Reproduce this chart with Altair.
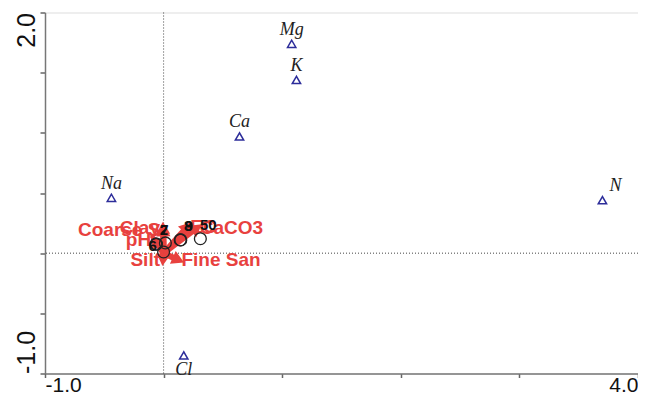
import altair as alt
import pandas as pd

# ---- data (CANOCO-style biplot scores) ----
species = ["Mg", "K", "Ca", "Na", "N", "Cl"]
sp_x = [1.08, 1.12, 0.64, -0.44, 3.70, 0.17]
sp_y = [1.74, 1.44, 0.97, 0.46, 0.44, -0.85]

env = ["Coarse S", "Clay", "pH", "CaCO3", "EC", "Silt", "Fine San"]
env_x = [-0.002, -0.005, -0.08, 0.28, 0.20, -0.005, 0.125]
env_y = [0.19, 0.21, 0.11, 0.21, 0.22, -0.056, -0.056]

samples = ["2", "7", "8", "9", "50", "1", "6"]
smp_x = [-0.065, -0.06, 0.14, 0.145, 0.31, 0.015, 0.0]
smp_y = [0.075, 0.075, 0.11, 0.11, 0.12, 0.085, 0.01]

x_ticks = [-1, 0, 1, 2, 3, 4]
y_ticks = [-1, -0.5, 0, 0.5, 1, 1.5, 2]

sp_df = pd.DataFrame({"name": species, "x": sp_x, "y": sp_y})
env_df = pd.DataFrame({"name": env, "x": env_x, "y": env_y})
smp_df = pd.DataFrame({"name": samples, "x": smp_x, "y": smp_y})

RED = "#e8413e"
NAVY = "#2d2d9a"
FONT = "Liberation Sans"

xs = alt.Scale(domain=[-1, 4], nice=False, zero=False)
ys = alt.Scale(domain=[-1, 2], nice=False, zero=False)

AX = alt.Axis(
    values=x_ticks, title=None, grid=False,
    labelExpr="datum.value == -1 ? '-1.0' : (datum.value == 4 ? '4.0' : '')",
    labelFlush=False,
    labelAlign=alt.ExprRef(expr="datum.value == 4 ? 'right' : 'left'"),
    labelFontSize=21, labelFont=FONT, labelColor="#111",
    labelBaseline="alphabetic", labelPadding=13.5, tickSize=4, tickColor="#666", tickWidth=1.5,
    domainColor="#777", domainWidth=1.5)
AY = alt.Axis(
    values=y_ticks, title=None, grid=False,
    labelExpr="datum.value == -1 ? '-1.0' : (datum.value == 2 ? '2.0' : '')",
    labelAngle=270,
    labelAlign=alt.ExprRef(expr="datum.value == 2 ? 'right' : 'left'"),
    labelBaseline="bottom", labelFontSize=25, labelFont=FONT, labelColor="#111",
    labelPadding=1, tickSize=5, tickColor="#666", tickWidth=1.5,
    domainColor="#777", domainWidth=1.5)

X = alt.X("x:Q", scale=xs, axis=AX)
Y = alt.Y("y:Q", scale=ys, axis=AY)

# origin dotted lines
axis_df = pd.DataFrame({"x": [0.0], "y": [0.0]})
vline = alt.Chart(axis_df).mark_rule(color="#444", strokeWidth=1, strokeDash=[1, 2]).encode(x=X)
hline = alt.Chart(axis_df).mark_rule(color="#444", strokeWidth=1, strokeDash=[1, 2]).encode(y=Y)

# environmental arrows
arrows = alt.Chart(env_df).transform_calculate(x0="0", y0="0").mark_rule(
    color=RED, strokeWidth=6).encode(
    x=alt.X("x0:Q", scale=xs, axis=AX), y=alt.Y("y0:Q", scale=ys, axis=AY),
    x2="x:Q", y2="y:Q")
heads = alt.Chart(env_df).transform_calculate(
    ang="(atan2(datum.x, datum.y) * 180 / PI + 360) % 360"
).mark_point(shape="triangle-up", filled=True, color=RED, size=200, opacity=1).encode(
    x=X, y=Y, angle=alt.Angle("ang:Q", scale=None))
env_left = alt.Chart(env_df).transform_filter("datum.x < 0").mark_text(
    color=RED, font=FONT, fontWeight="bold", fontSize=19, align="right", baseline="middle", dx=-3
).encode(x=X, y=Y, text="name:N")
env_right = alt.Chart(env_df).transform_filter("datum.x >= 0").mark_text(
    color=RED, font=FONT, fontWeight="bold", fontSize=19, align="left", baseline="middle", dx=3
).encode(x=X, y=Y, text="name:N")

# samples
circles = alt.Chart(smp_df).mark_point(shape="circle", filled=False, color="#222", size=140,
                                       strokeWidth=1.3, opacity=1).encode(x=X, y=Y)
smp_lab = alt.Chart(smp_df).transform_filter("datum.name != '6' && datum.name != '1'").mark_text(
    color="#111", font=FONT, fontWeight="bold", fontSize=15, align="center", baseline="middle",
    dx=8, dy=-14).encode(x=X, y=Y, text="name:N")
smp_lab6 = alt.Chart(smp_df).transform_filter("datum.name == '6'").mark_text(
    color="#111", font=FONT, fontWeight="bold", fontSize=15, align="center", baseline="middle",
    dx=-11, dy=-6).encode(x=X, y=Y, text="name:N")

# species
tri = alt.Chart(sp_df).mark_point(shape="triangle-up", filled=False, color=NAVY, size=70,
                                  strokeWidth=1.5, opacity=1).encode(x=X, y=Y)
sp_above = alt.Chart(sp_df).transform_filter("datum.name != 'Cl' && datum.name != 'N'").mark_text(
    font="Liberation Serif", fontStyle="italic", fontSize=18, color="#222",
    align="center", baseline="bottom", dy=-5).encode(x=X, y=Y, text="name:N")
sp_n = alt.Chart(sp_df).transform_filter("datum.name == 'N'").mark_text(
    font="Liberation Serif", fontStyle="italic", fontSize=18, color="#222",
    align="center", baseline="bottom", dy=-5, dx=13).encode(x=X, y=Y, text="name:N")
sp_below = alt.Chart(sp_df).transform_filter("datum.name == 'Cl'").mark_text(
    font="Liberation Serif", fontStyle="italic", fontSize=18, color="#222",
    align="center", baseline="top", dy=6).encode(x=X, y=Y, text="name:N")

chart = alt.layer(
    vline, hline, arrows, heads, env_left, env_right, circles, smp_lab, smp_lab6,
    tri, sp_above, sp_n, sp_below
).properties(
    width=593, height=361,
    autosize=alt.AutoSizeParams(type="none"),
    padding={"left": 37, "top": 4.5, "right": 0, "bottom": 18.5},
).configure_view(stroke="#777", strokeWidth=1.5).configure(background="white")

chart.save("out.html", embed_options={"renderer": "svg", "actions": False})
